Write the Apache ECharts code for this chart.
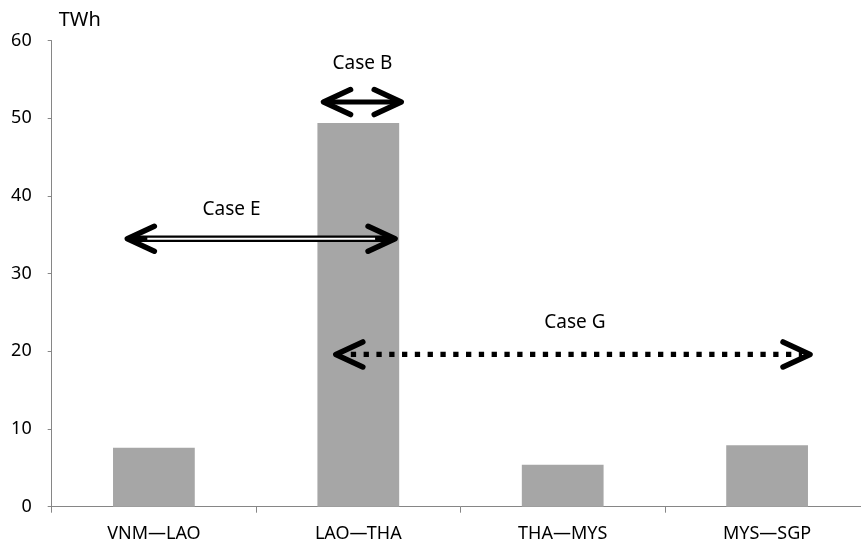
<!DOCTYPE html>
<html>
<head>
<meta charset="utf-8">
<script src="https://cdn.jsdelivr.net/npm/echarts@6/dist/echarts.min.js"></script>
<style>
  html, body { margin: 0; padding: 0; background: #ffffff; overflow: hidden; }
  #chart { width: 870px; height: 550px; }
</style>
</head>
<body>
<div id="chart"></div>
<script>
// Annual interconnection flows (TWh)
const categories = ['VNM—LAO', 'LAO—THA', 'THA—MYS', 'MYS—SGP'];
const flows = [7.6, 49.4, 5.4, 7.9];
const yTicks = [0, 10, 20, 30, 40, 50, 60];

// Case spans, in category units along the x axis (0 = left edge of first category)
const caseNames = ['Case B', 'Case E', 'Case G'];
const caseFrom = [1.33, 0.37, 1.39];
const caseTo = [1.71, 1.68, 3.71];
const caseLevel = [52.1, 34.5, 19.6];
const caseLabelX = [1.52, 0.88, 2.56];
const caseLabelY = [57.1, 38.3, 23.7];

const FONT = '"Noto Sans", "Open Sans", sans-serif';
const caseStyles = ['solid', 'double', 'dotted'];

const chart = echarts.init(document.getElementById('chart'), null, { renderer: 'canvas' });

function chevron(tipX, y, dir) {
  const dx = 27 * dir, dy = 12.5;
  return {
    type: 'polyline',
    shape: { points: [[tipX + dx, y - dy], [tipX, y], [tipX + dx, y + dy]] },
    style: { stroke: '#000', lineWidth: 5.5, fill: null, lineCap: 'round', lineJoin: 'round' },
    z2: 5
  };
}

function renderCase(params, api) {
  const i = params.dataIndex;
  const a = api.coord([api.value(0), api.value(2)]);
  const b = api.coord([api.value(1), api.value(2)]);
  const lbl = api.coord([api.value(3), api.value(4)]);
  const y = a[1];
  const kind = caseStyles[i];
  const kids = [];
  if (kind === 'solid') {
    kids.push({ type: 'line', shape: { x1: a[0] + 3, y1: y, x2: b[0] - 3, y2: y },
      style: { stroke: '#000', lineWidth: 5 } });
  } else if (kind === 'double') {
    kids.push({ type: 'line', shape: { x1: a[0] + 3, y1: y, x2: b[0] - 3, y2: y },
      style: { stroke: '#000', lineWidth: 6.5 } });
    kids.push({ type: 'line', shape: { x1: a[0] + 20, y1: y, x2: b[0] - 20, y2: y },
      style: { stroke: '#fff', lineWidth: 2 } });
  } else {
    kids.push({ type: 'line', shape: { x1: a[0] + 15, y1: y, x2: b[0] - 8, y2: y },
      style: { stroke: '#000', lineWidth: 5.3, lineDash: [5.3, 7.5], lineCap: 'butt' } });
  }
  kids.push(chevron(a[0], y, 1));
  kids.push(chevron(b[0], y, -1));
  kids.push({
    type: 'text',
    x: lbl[0], y: lbl[1],
    style: { text: caseNames[i], fill: '#000', font: '19px ' + FONT, align: 'center', verticalAlign: 'middle' }
  });
  return { type: 'group', children: kids };
}

chart.setOption({
  animation: false,
  backgroundColor: '#ffffff',
  grid: { left: 51.7, right: 0.7, top: 40.7, bottom: 43.3, containLabel: false },
  xAxis: [
    {
      type: 'category',
      data: categories,
      axisLine: { show: true, lineStyle: { color: '#868686', width: 1 } },
      axisTick: { show: true, alignWithLabel: false, length: 6, lineStyle: { color: '#868686' } },
      axisLabel: { color: '#000', fontSize: 18, fontFamily: FONT, margin: 18 },
      splitLine: { show: false }
    },
    {
      type: 'value', min: 0, max: categories.length, show: false
    }
  ],
  yAxis: {
    type: 'value',
    min: yTicks[0],
    max: yTicks[yTicks.length - 1],
    interval: yTicks[1] - yTicks[0],
    name: 'TWh',
    nameLocation: 'end',
    nameGap: 10,
    nameTextStyle: { color: '#000', fontSize: 20, fontFamily: FONT, align: 'left', padding: [0, 0, 0, 7] },
    axisLine: { show: true, lineStyle: { color: '#868686', width: 1 } },
    axisTick: { show: true, inside: false, length: 4, lineStyle: { color: '#868686' } },
    axisLabel: { color: '#000', fontSize: 18, fontFamily: FONT, margin: 20 },
    splitLine: { show: false }
  },
  series: [
    {
      type: 'bar',
      data: flows,
      xAxisIndex: 0,
      barWidth: '40%',
      itemStyle: { color: '#a6a6a6' },
      z: 2
    },
    {
      type: 'custom',
      xAxisIndex: 1,
      yAxisIndex: 0,
      renderItem: renderCase,
      data: caseNames.map((n, i) => [caseFrom[i], caseTo[i], caseLevel[i], caseLabelX[i], caseLabelY[i]]),
      encode: { x: [0, 1, 3], y: [2, 4] },
      clip: false,
      z: 5
    }
  ]
});
</script>
</body>
</html>
